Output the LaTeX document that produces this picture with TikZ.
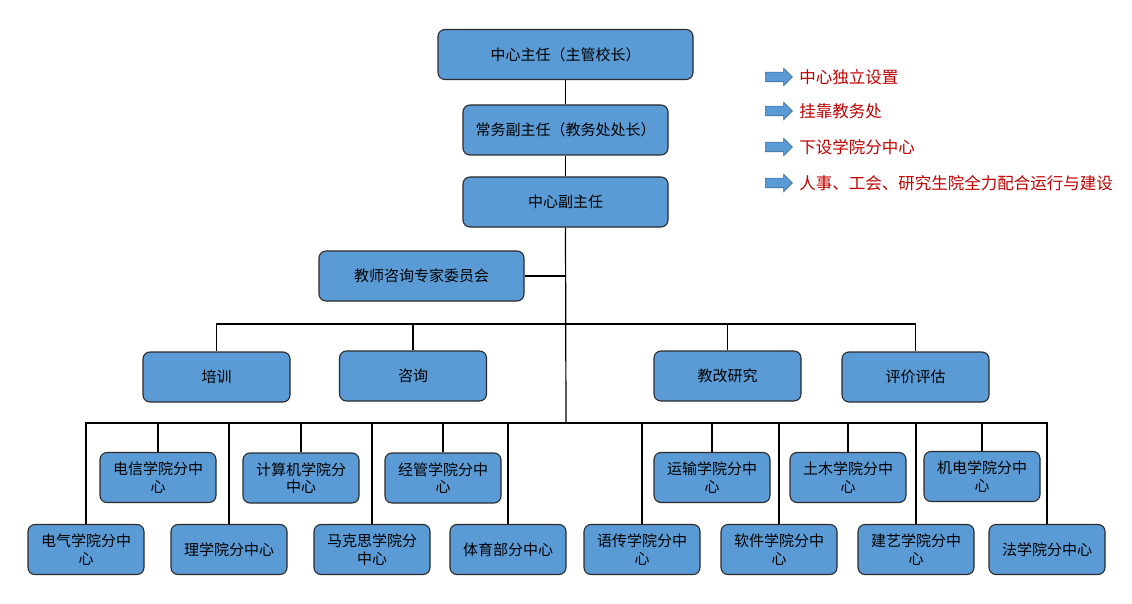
\documentclass[tikz,border=0pt]{standalone}
\usepackage{fontspec}
\setmainfont{Noto Sans CJK SC}
\usetikzlibrary{shapes.arrows}

\definecolor{unitblue}{HTML}{5B9BD5}
\definecolor{unitedge}{HTML}{2B2B2B}
\definecolor{legred}{HTML}{C00000}

\tikzset{
  unitbox/.style={draw=unitedge, fill=unitblue, rounded corners=7pt, line width=1.1pt,
    minimum height=50pt, inner sep=2pt, align=center, font=\fontsize{15}{17.5}\selectfont},
  legarrow/.style={shape=single arrow, draw=unitblue!70!black, fill=unitblue, line width=0.6pt,
    minimum height=27pt, minimum width=17pt, single arrow head extend=4pt,
    inner xsep=0pt, inner ysep=4.5pt},
  legtext/.style={anchor=west, text=legred, font=\fontsize{16.5}{19}\selectfont},
  link/.style={draw=black, line width=1.2pt}
}

\begin{document}
\begin{tikzpicture}[x=1pt, y=-1pt]
\useasboundingbox (0,0) rectangle (1132,604);

%top of the chart
\node[unitbox, minimum width=255pt] (dir) at (565.5,54.5) {中心主任（主管校长）};
\node[unitbox, minimum width=205pt] (exec) at (565.5,130) {常务副主任（教务处处长）};
\node[unitbox, minimum width=205pt] (vice) at (565.5,202) {中心副主任};
\node[unitbox, minimum width=205pt] (expert) at (421.5,276) {教师咨询专家委员会};

%functions
\node[unitbox, minimum width=147pt] (px) at (216.5,377) {培训};
\node[unitbox, minimum width=147pt] (zx) at (413,376) {咨询};
\node[unitbox, minimum width=147pt] (jg) at (727.5,376) {教改研究};
\node[unitbox, minimum width=147pt] (pg) at (915.5,377) {评价评估};

%branch centres, upper row
\node[unitbox, minimum width=116pt] (dxin) at (158,477.5) {电信学院分中\\心};
\node[unitbox, minimum width=116pt] (jsj) at (301,478) {计算机学院分\\中心};
\node[unitbox, minimum width=116pt] (jgl) at (443,478) {经管学院分中\\心};
\node[unitbox, minimum width=116pt] (ys) at (712,477.5) {运输学院分中\\心};
\node[unitbox, minimum width=116pt] (tm) at (848,477.5) {土木学院分中\\心};
\node[unitbox, minimum width=116pt] (jd) at (982,476.5) {机电学院分中\\心};

%branch centres, lower row
\node[unitbox, minimum width=116pt] (dq) at (86,549.5) {电气学院分中\\心};
\node[unitbox, minimum width=116pt] (lx) at (229,549.5) {理学院分中心};
\node[unitbox, minimum width=116pt] (mks) at (372,549.5) {马克思学院分\\中心};
\node[unitbox, minimum width=116pt] (ty) at (508,549.5) {体育部分中心};
\node[unitbox, minimum width=116pt] (yc) at (642,549.5) {语传学院分中\\心};
\node[unitbox, minimum width=116pt] (rj) at (779,549.5) {软件学院分中\\心};
\node[unitbox, minimum width=116pt] (jy) at (916,549.5) {建艺学院分中\\心};
\node[unitbox, minimum width=116pt] (fx) at (1047,549.5) {法学院分中心};

\coordinate (bus1) at (566,324);
\coordinate (bus2) at (566,423);

\draw[link] (dir.south) -- (exec.north);
\draw[link] (exec.south) -- (vice.north);
\draw[link] (vice.south) -- (bus2);
\draw[link] (expert.east) -- (expert.east -| vice.south);
\foreach \n in {px,zx,jg,pg}
  {\draw[link] (\n.north) |- (bus1);}
\foreach \n in {dxin,jsj,jgl,ys,tm,jd,dq,lx,mks,ty,yc,rj,jy,fx}
  {\draw[link] (\n.north) |- (bus2);}

%legend
\foreach \k/\y/\t in {1/77/中心独立设置, 2/111/挂靠教务处, 3/147/下设学院分中心,
                      4/183/人事、工会、研究生院全力配合运行与建设}
{
  \node[legarrow] (a\k) at (776.5,\y) {};
  \node[legtext] (l\k) at ([xshift=3pt]a\k.east) {\t};
}

\end{tikzpicture}
\end{document}
